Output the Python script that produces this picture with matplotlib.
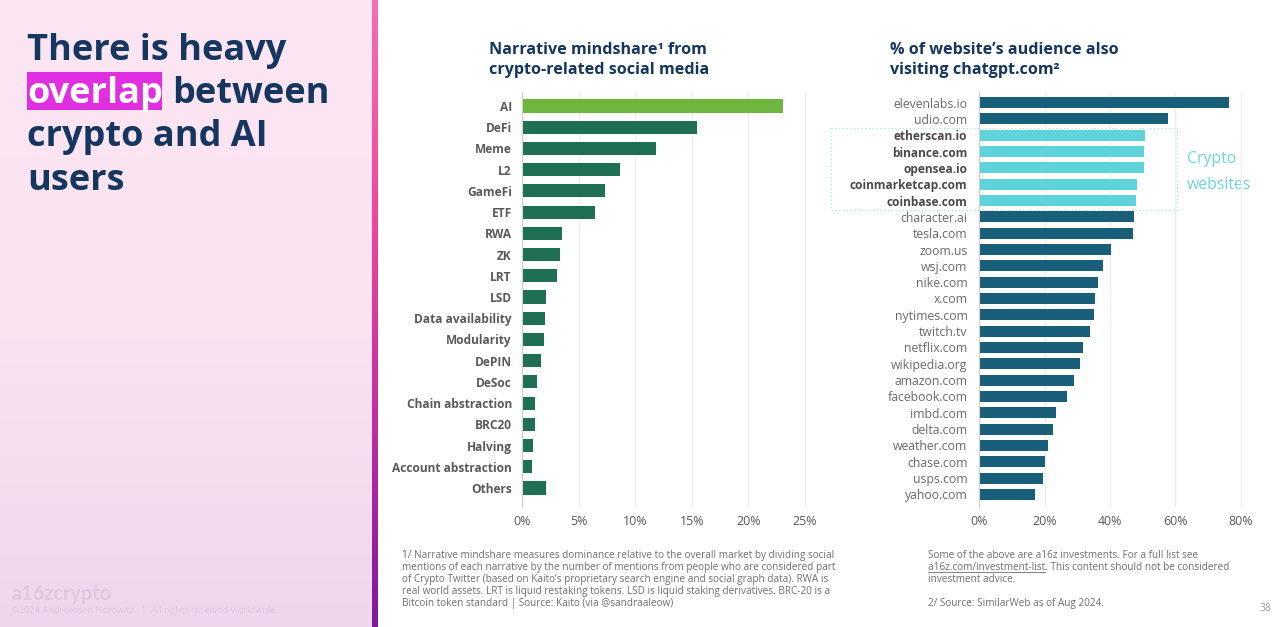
import numpy as np
import matplotlib
matplotlib.use("Agg")
import matplotlib.pyplot as plt
from matplotlib.colors import LinearSegmentedColormap
from matplotlib.patches import Rectangle
from matplotlib.ticker import FuncFormatter

plt.rcParams['font.family'] = ['Open Sans', 'DejaVu Sans']

narratives = ["AI", "DeFi", "Meme", "L2", "GameFi", "ETF", "RWA", "ZK", "LRT", "LSD",
              "Data availability", "Modularity", "DePIN", "DeSoc", "Chain abstraction",
              "BRC20", "Halving", "Account abstraction", "Others"]
mindshare = [23.06, 15.5, 11.8, 8.63, 7.35, 6.43, 3.48, 3.33, 3.07, 2.07,
             1.98, 1.95, 1.63, 1.27, 1.15, 1.1, 0.92, 0.83, 2.07]
websites = ["elevenlabs.io", "udio.com", "etherscan.io", "binance.com", "opensea.io",
            "coinmarketcap.com", "coinbase.com", "character.ai", "tesla.com", "zoom.us",
            "wsj.com", "nike.com", "x.com", "nytimes.com", "twitch.tv", "netflix.com",
            "wikipedia.org", "amazon.com", "facebook.com", "imbd.com", "delta.com",
            "weather.com", "chase.com", "usps.com", "yahoo.com"]
overlap = [76.6, 57.7, 50.9, 50.5, 50.4, 48.3, 48.0, 47.3, 47.1, 40.3, 37.9, 36.5, 35.4,
           35.0, 34.0, 31.9, 31.0, 28.9, 27.0, 23.4, 22.7, 21.2, 20.0, 19.4, 17.2]
crypto_sites = ["etherscan.io", "binance.com", "opensea.io", "coinmarketcap.com", "coinbase.com"]
left_ticks = [0, 5, 10, 15, 20, 25]
right_ticks = [0, 20, 40, 60, 80]

W, H = 1281, 627
fig = plt.figure(figsize=(W / 100, H / 100), dpi=100, facecolor="white")

ov = fig.add_axes([0, 0, 1, 1], zorder=0)
ov.set_xlim(0, W); ov.set_ylim(H, 0); ov.axis("off")

NAVY = "#14365f"
panel = LinearSegmentedColormap.from_list("p", ["#fde6f3", "#fbe3f2", "#f0d6ec"])
grad = np.linspace(0, 1, 256).reshape(-1, 1)
ov.imshow(grad, extent=(0, 372, H, 0), aspect="auto", cmap=panel)
stripe = LinearSegmentedColormap.from_list("s", ["#f56fb0", "#ee4a97", "#c0309f", "#7a1a9a"])
ov.imshow(grad, extent=(372, 378, H, 0), aspect="auto", cmap=stripe)
ov.set_xlim(0, W); ov.set_ylim(H, 0)

# heading
ov.add_patch(Rectangle((27, 72), 135, 38, fc="#e02ee0", ec="none"))
tkw = dict(fontsize=26, fontweight="bold", va="baseline", color=NAVY)
ov.text(27, 60, "There is heavy", **tkw)
ov.text(27, 103, "overlap", **{**tkw, "color": "white"})
ov.text(172.5, 103, "between", **tkw)
ov.text(27, 146, "crypto and AI", **tkw)
ov.text(27, 190, "users", **tkw)

# chart titles
skw = dict(fontsize=11.6, fontweight="bold", va="baseline", color=NAVY)
ov.text(489, 54, "Narrative mindshare¹ from", **skw)
ov.text(489, 74, "crypto-related social media", **skw)
ov.text(889.5, 54, "% of website’s audience also", **skw)
ov.text(889.5, 74, "visiting chatgpt.com²", **skw)


def px_axes(x0, x1, ytop, ybot):
    return fig.add_axes([x0 / W, 1 - ybot / H, (x1 - x0) / W, (ybot - ytop) / H],
                        facecolor="none", zorder=2)


def style(ax, ticks, xmax):
    ax.set_xlim(0, xmax)
    ax.set_xticks(ticks)
    ax.xaxis.set_major_formatter(FuncFormatter(lambda v, _: f"{v:.0f}%"))
    ax.grid(axis="x", color="#eeeeee", lw=1)
    ax.set_axisbelow(True)
    for s in ("top", "right", "bottom"):
        ax.spines[s].set_visible(False)
    ax.spines["left"].set_color("#cfcfcf")
    ax.tick_params(axis="both", length=0)
    ax.tick_params(axis="x", labelsize=8.9, labelcolor="#595959", pad=6)


# left chart
axl = px_axes(522.2, 804.8 + 10, 92, 507)
pos = np.arange(len(narratives))
axl.barh(pos, mindshare, height=0.62,
         color=["#6fb640" if n == "AI" else "#1f6f54" for n in narratives])
axl.set_ylim(18 + (507 - 488) / 21.22, -(106 - 92) / 21.22)
style(axl, left_ticks, 25 + 10 / 11.3)
axl.set_yticks(pos, narratives)
axl.tick_params(axis="y", labelsize=8.55, labelcolor="#595959", pad=7.5)
for t in axl.get_yticklabels():
    t.set_fontweight("bold")

# right chart
axr = px_axes(979.2, 1240.5 + 10, 92, 507)
pos = np.arange(len(websites))
axr.barh(pos, overlap, height=0.66,
         color=["#5fd3da" if w in crypto_sites else "#1a5f7a" for w in websites])
axr.set_ylim(24 + (507 - 494.5) / 16.33, -(102.5 - 92) / 16.33)
style(axr, right_ticks, 80 + 10 / 3.27)
axr.set_yticks(pos, websites)
axr.tick_params(axis="y", labelsize=8.85, labelcolor="#6a6a6a", pad=8.5)
for t in axr.get_yticklabels():
    if t.get_text() in crypto_sites:
        t.set_fontweight("bold")
        t.set_fontsize(8.6)
        t.set_color("#4a4a4a")

# crypto annotation
ov.add_patch(Rectangle((831, 128), 346, 82, fc="none", ec="#a5e3e6", lw=0.9, ls=(0, (1, 2))))
ckw = dict(fontsize=11.3, color="#6fd5dc", va="baseline")
ov.text(1187, 163, "Crypto", **ckw)
ov.text(1187, 189, "websites", **ckw)

# footnotes
fkw = dict(fontsize=7.22, color="#707070", va="baseline")
left_note = ["1/ Narrative mindshare measures dominance relative to the overall market by dividing social",
             "mentions of each narrative by the number of mentions from people who are considered part",
             "of Crypto Twitter (based on Kaito’s proprietary search engine and social graph data). RWA is",
             "real world assets. LRT is liquid restaking tokens. LSD is liquid staking derivatives. BRC-20 is a",
             "Bitcoin token standard | Source: Kaito (via @sandraaleow)"]
for i, line in enumerate(left_note):
    ov.text(402.5, 558 + i * 11.9, line, **fkw)
right_note = ["Some of the above are a16z investments. For a full list see",
              "a16z.com/investment-list. This content should not be considered",
              "investment advice."]
for i, line in enumerate(right_note):
    ov.text(927.5, 558 + i * 12, line, **fkw)
ov.plot([927.5, 1045], [571.5, 571.5], color="#707070", lw=0.6)
ov.text(927.5, 606, "2/ Source: SimilarWeb as of Aug 2024.", **fkw)
ov.text(1271, 611, "38", fontsize=7.5, color="#9a9a9a", ha="right", va="baseline")

# branding
ov.text(11, 600, "a16zcrypto", fontsize=14.3, color="#e3c6e0", fontweight="bold", family="Lato", va="baseline")
ov.text(11, 613, "©2024 Andreessen Horowitz.  |  All rights reserved worldwide.", fontsize=6.7,
        color="#e3c6e0", va="baseline")

fig.savefig("out.png", dpi=100)
